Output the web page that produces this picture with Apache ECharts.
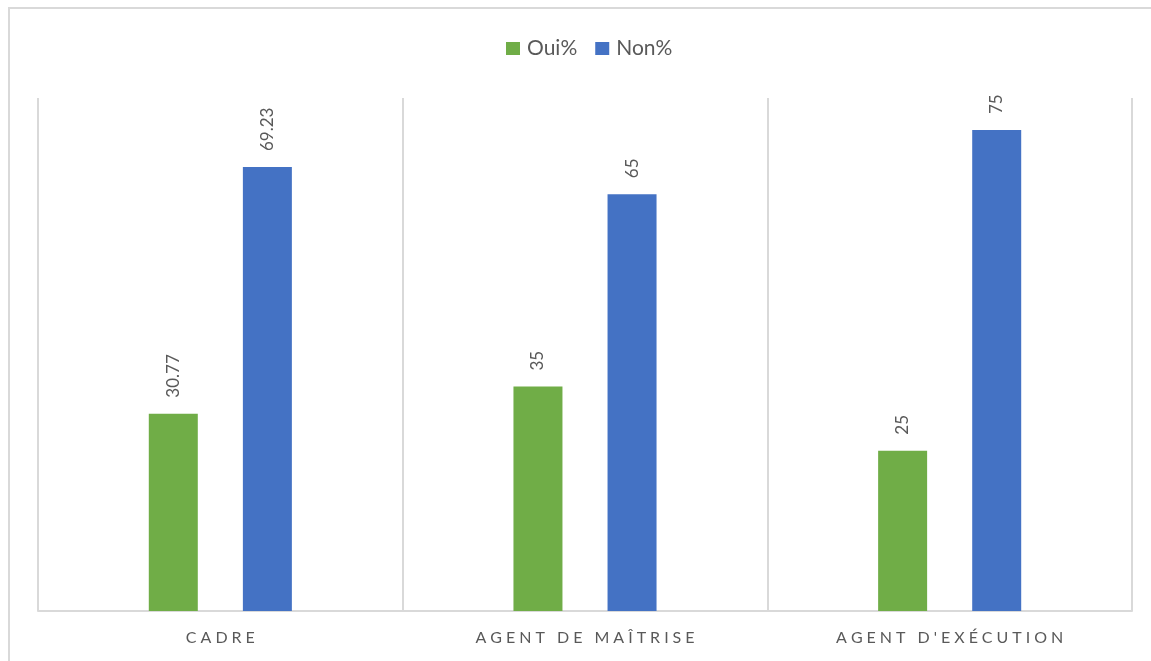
<!DOCTYPE html>
<html>
<head>
<meta charset="utf-8">
<script src="https://cdn.jsdelivr.net/npm/echarts@6/dist/echarts.min.js"></script>
<style>
  html, body { margin: 0; padding: 0; background: #fff; }
  #chart { width: 1151px; height: 661px; }
</style>
</head>
<body>
<div id="chart"></div>
<script>
// Categories and series values
const categories = ['CADRE', 'AGENT DE MAÎTRISE', "AGENT D'EXÉCUTION"];
const ouiValues = [30.77, 35, 25];
const nonValues = [69.23, 65, 75];

// Spread letters apart to imitate letter-spacing on the category labels
const GAP = '\u2005';
const spaced = s => s.split('').join(GAP);

const FONT = 'Lato, "Open Sans", sans-serif';

const labelStyle = {
  show: true,
  position: 'top',
  rotate: 90,
  align: 'left',
  verticalAlign: 'middle',
  distance: 16,
  color: '#595959',
  fontFamily: FONT,
  fontSize: 17
};

const chart = echarts.init(document.getElementById('chart'), null, { renderer: 'canvas' });
chart.setOption({
  backgroundColor: '#fff',
  animation: false,
  graphic: [{
    type: 'rect',
    shape: { x: 9, y: 8, width: 1160, height: 680 },
    style: { fill: 'none', stroke: '#d9d9d9', lineWidth: 2 },
    silent: true
  }],
  legend: {
    top: 38,
    left: 506,
    padding: 0,
    itemWidth: 14,
    itemHeight: 13,
    itemGap: 18,
    icon: 'rect',
    textStyle: { color: '#595959', fontSize: 21, fontFamily: FONT, padding: [0, 0, 0, 2] },
    data: ['Oui%', 'Non%']
  },
  grid: { left: 38, right: 19, top: 98, bottom: 50, containLabel: false },
  xAxis: {
    type: 'category',
    data: categories,
    axisLine: { lineStyle: { color: '#d9d9d9', width: 2 } },
    axisTick: { show: false },
    splitLine: { show: true, interval: 0, lineStyle: { color: '#d9d9d9', width: 2 } },
    axisLabel: {
      interval: 0,
      color: '#595959',
      fontSize: 16,
      fontFamily: FONT,
      margin: 19,
      formatter: v => spaced(v)
    }
  },
  yAxis: {
    type: 'value',
    min: 0,
    max: 80,
    show: false,
    splitLine: { show: false }
  },
  series: [
    {
      name: 'Oui%',
      type: 'bar',
      data: ouiValues,
      barWidth: 49,
      barGap: '92%',
      itemStyle: { color: '#70ad47' },
      label: labelStyle
    },
    {
      name: 'Non%',
      type: 'bar',
      data: nonValues,
      barWidth: 49,
      itemStyle: { color: '#4472c4' },
      label: labelStyle
    }
  ]
});
</script>
</body>
</html>
